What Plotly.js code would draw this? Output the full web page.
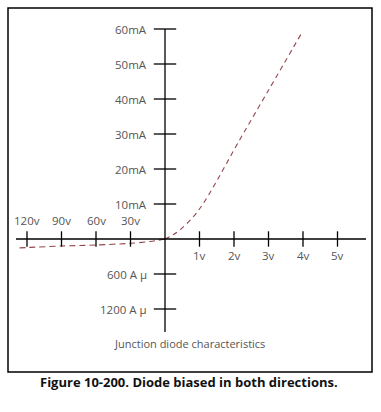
<!DOCTYPE html>
<html>
<head>
<meta charset="utf-8">
<script src="https://cdn.plot.ly/plotly-3.0.1.min.js"></script>
<style>html,body{margin:0;padding:0;background:#fff;}#chart{width:381px;height:412px;}</style>
</head>
<body>
<div id="chart"></div>
<script>
// Forward bias: voltage (V) and current (mA)
const forwardVolts = [0, 0.2, 0.43, 0.8, 1.1, 1.5, 2.1, 3.0, 3.97];
const forwardMilliamps = [0, 1.0, 2.6, 6.1, 10.0, 16.6, 27.2, 42.5, 59];
// Reverse bias: voltage (V) and current (µA)
const reverseVolts = [0, -13, -30, -60, -90, -120, -129];
const reverseMicroamps = [0, -43, -74, -103, -120, -146, -154];

// Axis ticks
const forwardVoltTicks = [1, 2, 3, 4, 5];
const forwardVoltLabels = ["1v", "2v", "3v", "4v", "5v"];
const reverseVoltTicks = [-30, -60, -90, -120];
const reverseVoltLabels = ["30v", "60v", "90v", "120v"];
const forwardCurrentTicks = [10, 20, 30, 40, 50, 60];
const forwardCurrentLabels = ["10mA", "20mA", "30mA", "40mA", "50mA", "60mA"];
const reverseCurrentTicks = [-600, -1200];
const reverseCurrentLabels = ["600 A µ", "1200 A µ"];

const chartTitle = "Junction diode characteristics";
const caption = "Figure 10-200. Diode biased in both directions.";

// Scale: forward 1 V per unit, reverse 30 V per unit; forward 1 mA per unit, reverse 60 µA per unit
const VREV = 30, IREV = 60;
const fx = v => v >= 0 ? v : v / VREV;
const fy = i => i; // mA
const ry = ua => ua / IREV;

const curveColor = "#94464c";
const traces = [
  { x: forwardVolts.map(fx), y: forwardMilliamps.map(fy), mode: "lines", line: {color: curveColor, width: 1.1, dash: "5px,4px", shape: "spline", smoothing: 1}, hoverinfo: "skip" },
  { x: reverseVolts.map(fx), y: reverseMicroamps.map(ry), mode: "lines", line: {color: curveColor, width: 1.1, dash: "6px,4px", shape: "spline", smoothing: 0.8}, hoverinfo: "skip" },
  // x ticks
  { x: forwardVoltTicks.map(fx).concat(reverseVoltTicks.map(fx)), y: forwardVoltTicks.map(()=>0).concat(reverseVoltTicks.map(()=>0)),
    mode: "markers", marker: {symbol: "line-ns", size: 11, line: {color: "#000", width: 1.3}}, hoverinfo: "skip" },
  // y ticks
  { x: forwardCurrentTicks.map(()=>0).concat(reverseCurrentTicks.map(()=>0)), y: forwardCurrentTicks.map(fy).concat(reverseCurrentTicks.map(ry)),
    mode: "markers", marker: {symbol: "line-ew", size: 16, line: {color: "#000", width: 1.3}}, hoverinfo: "skip" }
];

const labelFont = {family: "Open Sans, sans-serif", size: 11.5, color: "#555"};
const annotations = [];
forwardVoltTicks.forEach((v, k) => annotations.push({x: fx(v), y: 0, xref: "x", yref: "y", text: forwardVoltLabels[k], showarrow: false, yanchor: "top", yshift: -7, font: labelFont}));
reverseVoltTicks.forEach((v, k) => annotations.push({x: fx(v), y: 0, xref: "x", yref: "y", text: reverseVoltLabels[k], showarrow: false, yanchor: "bottom", yshift: 9, font: labelFont}));
forwardCurrentTicks.forEach((c, k) => annotations.push({x: 0, y: fy(c), xref: "x", yref: "y", text: forwardCurrentLabels[k], showarrow: false, xanchor: "right", xshift: -16, font: labelFont}));
reverseCurrentTicks.forEach((c, k) => annotations.push({x: 0, y: ry(c), xref: "x", yref: "y", text: reverseCurrentLabels[k], showarrow: false, xanchor: "right", xshift: -16, font: labelFont}));
annotations.push({x: 189/381, y: (412-353)/412, xref: "paper", yref: "paper", text: chartTitle, showarrow: false, font: {family: "Open Sans, sans-serif", size: 11, color: "#555"}});
annotations.push({x: 189/381, y: (412-393)/412, xref: "paper", yref: "paper", text: "<b>" + caption + "</b>", showarrow: false, font: {family: "Open Sans, sans-serif", size: 13, color: "#111"}});

const shapes = [
  // frame
  {type: "rect", xref: "paper", yref: "paper", x0: 8/381, x1: 372/381, y0: (412-372)/412, y1: (412-8)/412, line: {color: "#000", width: 1.5}},
  // horizontal axis
  {type: "line", xref: "x", yref: "y", x0: (16-165)/34.5, x1: (366-165)/34.5, y0: 0, y1: 0, line: {color: "#000", width: 1.3}},
  // vertical axis
  {type: "line", xref: "x", yref: "y", x0: 0, x1: 0, y0: 60, y1: (239-332)/3.5, line: {color: "#000", width: 1.3}}
];

const layout = {
  width: 381, height: 412,
  margin: {l: 0, r: 0, t: 0, b: 0},
  paper_bgcolor: "#fff", plot_bgcolor: "#fff",
  showlegend: false,
  xaxis: {range: [-165/34.5, 216/34.5], visible: false, fixedrange: true},
  yaxis: {range: [(239-412)/3.5, 239/3.5], visible: false, fixedrange: true},
  shapes: shapes,
  annotations: annotations
};
Plotly.newPlot("chart", traces, layout, {staticPlot: true, displayModeBar: false});
</script>
</body>
</html>
